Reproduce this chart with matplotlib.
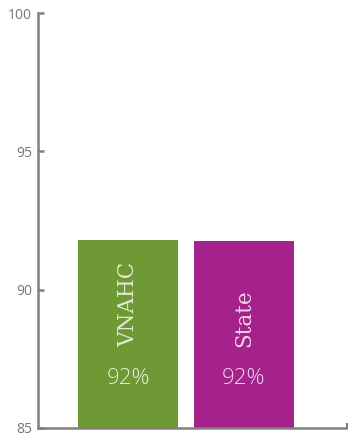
"""
Two-bar comparison, VNAHC vs State (percent)
"""

### Import modules
import numpy as np
import matplotlib
matplotlib.use('Agg')
import matplotlib.pyplot as plt

### Data
groups = ['VNAHC', 'State']
values = [91.78, 91.74]
labels = ['92%', '92%']
colors = ['#6f9935', '#a5218c']
yticks = [85, 90, 95, 100]

### Figure
fig = plt.figure(figsize=(3.48, 4.36), dpi=100)
ax = fig.add_axes([0.108, 0.019, 0.889, 0.951])

x = np.arange(len(groups))
ax.bar(x, np.array(values) - 85, bottom=85, width=0.862, color=colors,
       zorder=1)

### Text inside the bars
for i in range(len(groups)):
    ax.text(x[i], 87.92, groups[i], rotation=90, rotation_mode='anchor',
            ha='left', va='center', fontsize=15.5, family='DejaVu Serif',
            color='white', alpha=0.8, zorder=3)
    ax.text(x[i], 86.77, labels[i], ha='center', va='center', fontsize=16,
            family='Open Sans', fontweight='light', color='white', alpha=0.82,
            zorder=3)

### Axes styling
axcolor = '#808080'
for loc in ['top', 'right']:
    ax.spines[loc].set_visible(False)
for loc in ['left', 'bottom']:
    ax.spines[loc].set_color(axcolor)
    ax.spines[loc].set_linewidth(1.8)

ax.set_xlim(-0.78, 1.888)
ax.set_ylim(85, 100)
ax.set_yticks(yticks)
ax.set_yticklabels([str(t) for t in yticks], family='Open Sans', fontsize=10,
                   color='#777777')
ax.tick_params(axis='y', direction='in', length=4.5, width=1.8,
               color=axcolor, pad=4)
ax.set_xticks([1.888])
ax.set_xticklabels([''])
ax.tick_params(axis='x', direction='in', length=3.5, width=1.5, color=axcolor)

plt.savefig('out.png', dpi=100)
